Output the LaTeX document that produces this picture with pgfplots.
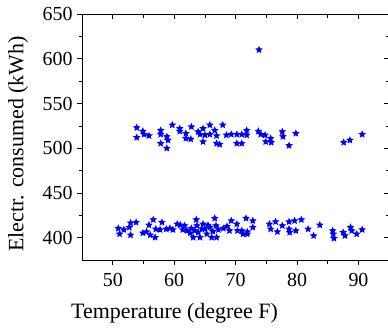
\documentclass[border=0pt]{standalone}
\usepackage{fontspec}
\setmainfont{Liberation Serif}
\usepackage{pgfplots}
\pgfplotsset{compat=1.18}
\usetikzlibrary{plotmarks}
\definecolor{pblue}{RGB}{0,0,255}
\pgfdeclareplotmark{fstar}{%
  \pgfpathmoveto{\pgfpointpolar{90}{\pgfplotmarksize}}%
  \pgfpathlineto{\pgfpointpolar{126}{0.47\pgfplotmarksize}}%
  \pgfpathlineto{\pgfpointpolar{162}{\pgfplotmarksize}}%
  \pgfpathlineto{\pgfpointpolar{198}{0.47\pgfplotmarksize}}%
  \pgfpathlineto{\pgfpointpolar{234}{\pgfplotmarksize}}%
  \pgfpathlineto{\pgfpointpolar{270}{0.47\pgfplotmarksize}}%
  \pgfpathlineto{\pgfpointpolar{306}{\pgfplotmarksize}}%
  \pgfpathlineto{\pgfpointpolar{342}{0.47\pgfplotmarksize}}%
  \pgfpathlineto{\pgfpointpolar{18}{\pgfplotmarksize}}%
  \pgfpathlineto{\pgfpointpolar{54}{0.47\pgfplotmarksize}}%
  \pgfpathclose
  \pgfusepathqfill}
\begin{document}
\begin{tikzpicture}
\begin{axis}[
  name=main,
  scale only axis,
  width=307bp, height=246bp,
  xmin=45, xmax=95, ymin=375, ymax=650,
  xtick={50,60,70,80,90}, ytick={400,450,500,550,600,650},
  minor x tick num=1, minor y tick num=1,
  xtick pos=bottom, ytick pos=left,
  tick align=outside,
  major tick length=5bp, minor tick length=3.5bp,
  tick style={black, line width=0.6pt},
  axis line style={line width=0.6pt},
  /pgf/number format/assume math mode=true,
  ticklabel style={font=\fontsize{20}{23}\selectfont},
  xticklabel style={yshift=-5bp},
  yticklabel style={xshift=-1bp},
  xlabel={Temperature (degree F)},
  ylabel={Electr. consumed (kWh)},
  every axis x label/.style={at={(axis description cs:0.301,-0.2154)}, anchor=center, font=\fontsize{22}{26}\selectfont},
  every axis y label/.style={at={(axis description cs:-0.2085,0.4715)}, anchor=center, rotate=90, font=\fontsize{22}{26}\selectfont},
  clip=false,
]
\addplot[only marks, mark=fstar, mark size=4bp, pblue] coordinates {
(73.8,610)
(53.9,523) (53.9,512) (54.9,519) (55.1,515.5) (55.9,514)
(57.8,520) (57.8,515.5) (57.8,505.4)
(58.8,513) (59.0,509) (58.8,500)
(59.7,526) (60.9,522) (60.9,519)
(61.9,516.6) (61.9,511) (62.7,510.2)
(62.8,524) (63.9,518.5) (64.2,515.5)
(64.7,522) (65.0,514.7) (64.7,507.3)
(65.8,526) (65.8,515.5) (66.6,520) (66.9,514) (66.9,505.4) (67.9,526) (67.4,504.3)
(68.5,514.7) (69.3,515.5) (70.2,515.5) (70.2,505.4)
(71.0,515.5) (71.0,505.4) (71.8,520) (71.8,514.7) (73.7,519) (74.1,515.5) (74.8,514.7)
(74.9,507.3) (75.7,511) (75.8,506.5) (77.6,518.5) (77.7,513) (78.7,503) (79.8,516.6)
(87.6,506.5) (88.6,509) (90.6,515.5)
(50.9,410.5) (51.1,404.2) (51.8,409) (52.7,411.6) (52.9,416.5) (52.9,403) (53.8,417.2)
(54.9,405.3) (55.5,406.7) (55.9,414.2) (56.1,403) (56.6,420.2) (56.9,400.4) (57.0,409.7)
(57.7,409) (58.0,417.2) (58.7,409.7) (59.3,410.5) (59.8,409) (60.5,415.3) (61.0,414.2)
(61.4,409) (61.7,413.5) (62.1,407.9) (62.6,405.3) (62.8,410.5) (63.1,400.4) (63.6,420.2)
(63.7,413.5) (63.9,406) (64.2,400.4) (64.7,415.3) (65.0,409.7) (65.3,404.2) (65.8,411.6)
(66.1,400.4) (66.6,421.7) (66.8,413.5) (66.9,400.4) (67.2,409) (68.0,410.5) (68.6,412.7)
(69.0,407.9) (69.3,419) (70.2,415.3) (70.3,407.9)
(64.5,410) (65.5,414) (63.3,408) (66.3,407)
(71.7,421.7) (72.8,419) (72.8,411.6) (71.0,407.9) (71.2,404.2) (71.9,404.2) (71.9,406.7)
(75.5,415.3) (75.7,409.7) (76.5,417.9) (76.8,406.7) (77.6,413.5) (78.7,417.9) (78.7,409.7)
(78.8,406) (79.6,419) (79.8,407.9) (80.7,420.2) (81.8,409.7) (82.7,402.3) (83.7,414.2)
(85.8,407.9) (85.9,404.2) (86.0,399.3) (87.5,406) (87.8,402.3) (88.7,411.6) (88.9,407.9)
(89.7,404.2) (90.6,409)
};
\end{axis}
\begin{axis}[
  scale only axis,
  width=307bp, height=246bp,
  xmin=45, xmax=95, ymin=375, ymax=650,
  xtick={50,60,70,80,90}, ytick={400,450,500,550,600,650},
  minor x tick num=1, minor y tick num=1,
  xtick pos=top, ytick pos=right,
  tick align=inside,
  major tick length=5bp, minor tick length=3.5bp,
  tick style={black, line width=0.6pt},
  axis line style={line width=0.6pt},
  xticklabels={}, yticklabels={},
]
\end{axis}
\pgfresetboundingbox
\path[use as bounding box] ([xshift=-82bp,yshift=-70bp]main.south west) rectangle ([xshift=-1.2bp,yshift=14bp]main.north east);
\end{tikzpicture}
\end{document}
